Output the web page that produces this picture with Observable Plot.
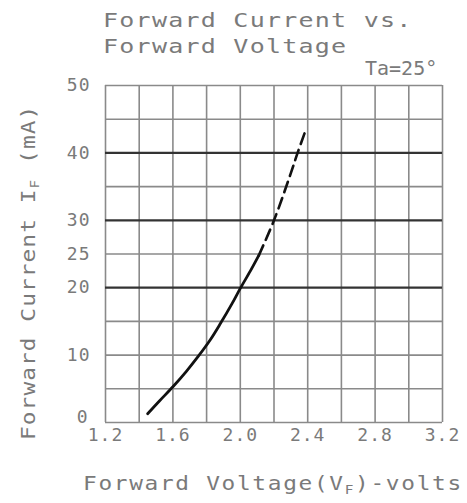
<!DOCTYPE html>
<html>
<head>
<meta charset="utf-8">
<script src="https://cdn.jsdelivr.net/npm/d3@7"></script>
<script src="https://cdn.jsdelivr.net/npm/@observablehq/plot@0.6"></script>
<style>
  html, body { margin: 0; padding: 0; background: #fff; }
</style>
</head>
<body>
<div id="chart"></div>
<script>
// Data
const solidV = [1.45, 1.52, 1.6, 1.68, 1.75, 1.82, 1.88, 1.95, 2.0, 2.06, 2.11];
const solidI = [1.3, 3.2, 5.3, 7.6, 9.8, 12.2, 14.6, 17.6, 19.9, 22.5, 24.8];
const dashV = [2.11, 2.2, 2.3, 2.34, 2.39];
const dashI = [24.8, 30, 37, 40, 43.5];

const xTicks = [1.2, 1.6, 2.0, 2.4, 2.8, 3.2];
const yTicks = [10, 20, 25, 30, 40, 50];
const yZeroTick = [0];
const xGrid = [1.2, 1.4, 1.6, 1.8, 2.0, 2.2, 2.4, 2.6, 2.8, 3.0, 3.2];
const yMinor = [0, 5, 10, 15, 25, 35, 45, 50];
const yMajor = [20, 30, 40];

const titleLines = ["Forward Current vs.", "Forward Voltage"];
const condition = "Ta=25°";

const solid = solidV.map((v, i) => ({v, i: solidI[i]}));
const dashed = dashV.map((v, i) => ({v, i: dashI[i]}));

const svg = Plot.plot({
  width: 467,
  height: 503,
  marginLeft: 105,
  marginRight: 25,
  marginTop: 85,
  marginBottom: 81,
  x: {domain: [1.2, 3.2]},
  y: {domain: [0, 50]},
  style: {fontFamily: "DejaVu Sans Mono", fontSize: "18px", color: "#7a7a7a", background: "#fff", letterSpacing: "1px"},
  marks: [
    Plot.ruleX(xGrid, {stroke: "#8a8a8a", strokeWidth: 1.6}),
    Plot.ruleY(yMinor, {stroke: "#8a8a8a", strokeWidth: 1.6}),
    Plot.ruleY(yMajor, {stroke: "#333", strokeWidth: 2.2}),
    Plot.line(solid, {x: "v", y: "i", stroke: "#111", strokeWidth: 2.8, curve: "catmull-rom"}),
    Plot.line(dashed, {x: "v", y: "i", stroke: "#111", strokeWidth: 2.6, curve: "catmull-rom", strokeDasharray: "11,6"}),
    Plot.axisX({ticks: xTicks, tickSize: 0, tickPadding: 6, tickFormat: d => d.toFixed(1), label: null}),
    Plot.axisY({ticks: yTicks, tickSize: 0, tickPadding: 15, label: null}),
    Plot.axisY({ticks: yZeroTick, tickSize: 0, tickPadding: 17, dy: -5, label: null})
  ]
});

document.getElementById("chart").appendChild(svg);

const s = d3.select(svg);
const font = "DejaVu Sans Mono";
const grey = "#7a7a7a";

function addText(transform, size, spacing) {
  return s.append("text").attr("x", 0).attr("y", 0)
    .attr("transform", transform)
    .attr("text-anchor", "start")
    .attr("font-family", font).attr("font-size", size)
    .attr("letter-spacing", spacing).attr("fill", grey);
}

addText("translate(103,27) scale(1.25,1)", 20, 1.0).text(titleLines[0]);
addText("translate(103,53) scale(1.25,1)", 20, 1.0).text(titleLines[1]);
addText("translate(365,75)", 20, 0).text(condition);

// x-axis label
const xl = addText("translate(83,490) scale(1.2,1)", 19, 1.4);
xl.append("tspan").text("Forward Voltage(V");
xl.append("tspan").attr("font-size", 12).attr("dy", 4).text("F");
xl.append("tspan").attr("dy", -4).text(")-volts");

// y-axis label
const yl = addText("translate(35,440) rotate(-90) scale(1.2,1)", 19, 0.9);
yl.append("tspan").text("Forward Current I");
yl.append("tspan").attr("font-size", 12).attr("dy", 4).text("F");
yl.append("tspan").attr("dy", -4).text(" (mA)");
</script>
</body>
</html>
